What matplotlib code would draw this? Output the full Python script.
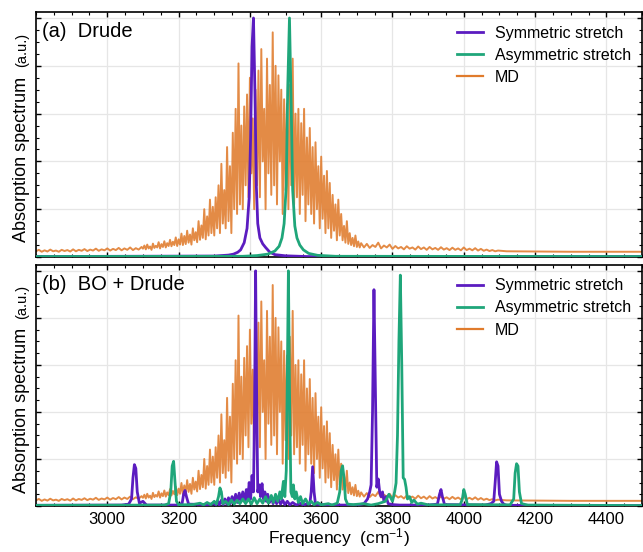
"""Absorption spectra: Drude vs BO + Drude, normal modes against MD."""

import matplotlib

matplotlib.use("Agg")
import matplotlib.pyplot as plt
import numpy as np
from matplotlib.ticker import FixedLocator, MultipleLocator

plt.rcParams["font.family"] = ["Liberation Sans", "DejaVu Sans"]
plt.rcParams["mathtext.default"] = "regular"

# Colours
SYM_COLOR = "#5b1cc0"
ASYM_COLOR = "#1fa67a"
MD_COLOR = "#e07b2c"

x_ticks = [3000, 3200, 3400, 3600, 3800, 4000, 4200, 4400]

# MD spectrum (same in both panels)
md_head = [
    0.024, 0.030, 0.022, 0.028, 0.023, 0.031, 0.024, 0.027, 0.022, 0.030,
    0.025, 0.029, 0.023, 0.032, 0.024, 0.030, 0.026, 0.033, 0.025, 0.031,
    0.027, 0.035, 0.026, 0.032, 0.028, 0.036, 0.027, 0.034, 0.029, 0.038,
    0.028, 0.036, 0.030, 0.040, 0.029, 0.037, 0.031, 0.042,
]
md_band = [
    0.035, 0.048, 0.032, 0.052, 0.036, 0.044, 0.030, 0.056, 0.038, 0.047,
    0.040, 0.062, 0.036, 0.054, 0.042, 0.066, 0.040, 0.058, 0.046, 0.072,
    0.045, 0.064, 0.050, 0.082, 0.046, 0.074, 0.052, 0.098, 0.050, 0.088,
    0.054, 0.110, 0.060, 0.094, 0.052, 0.120, 0.070, 0.104, 0.062, 0.150,
    0.072, 0.132, 0.080, 0.200, 0.074, 0.170, 0.090, 0.240, 0.100, 0.210,
    0.090, 0.250, 0.120, 0.300, 0.100, 0.390, 0.140, 0.280, 0.120, 0.460,
    0.150, 0.380, 0.100, 0.520, 0.200, 0.620, 0.180, 0.810, 0.220, 0.550,
    0.200, 0.630, 0.300, 0.680, 0.250, 0.750, 0.350, 0.580, 0.200, 0.700,
    0.300, 0.780, 0.250, 0.870, 0.400, 0.620, 0.200, 0.830, 0.350, 0.720,
    0.260, 0.940, 0.300, 0.800, 0.220, 0.760, 0.400, 0.700, 0.180, 0.660,
    0.280, 0.640, 0.200, 0.720, 0.300, 0.830, 0.220, 0.600, 0.250, 0.620,
    0.180, 0.560, 0.260, 0.620, 0.150, 0.500, 0.220, 0.540, 0.180, 0.460,
    0.140, 0.480, 0.200, 0.380, 0.120, 0.420, 0.160, 0.340, 0.100, 0.360,
    0.120, 0.310, 0.080, 0.260, 0.110, 0.220, 0.070, 0.240, 0.090, 0.180,
    0.070, 0.130, 0.060, 0.150, 0.055, 0.100, 0.050, 0.080, 0.045, 0.090,
    0.042, 0.065, 0.040, 0.058,
]
md_tail = [
    0.040, 0.055, 0.038, 0.050, 0.042, 0.060, 0.036, 0.048, 0.040, 0.052,
    0.034, 0.046, 0.036, 0.042, 0.032, 0.045, 0.035, 0.040, 0.031, 0.044,
    0.033, 0.040, 0.030, 0.042, 0.032, 0.038, 0.030, 0.041, 0.031, 0.037,
    0.029, 0.039, 0.030, 0.036, 0.028, 0.040, 0.029, 0.035, 0.028, 0.037,
    0.027, 0.034, 0.026, 0.031, 0.025, 0.029, 0.024, 0.027,
]
md_far_freq = [4120, 4200, 4300, 4400, 4500]
md_far = [0.024, 0.023, 0.022, 0.022, 0.022]

md_freq = np.concatenate([
    np.arange(2800, 3100, 8),
    np.arange(3100, 3716, 4),
    np.arange(3720, 4100, 8),
    md_far_freq,
])
md_val = np.array(md_head + md_band + md_tail + md_far)

# (a) Drude: normal-mode spectra
drude_sym_freq = [2800, 3300, 3340, 3354, 3366, 3374, 3384, 3392, 3398, 3402, 3406,
                  3410, 3414, 3418, 3422, 3428, 3436, 3444, 3456, 3470, 3500, 3560, 4500]
drude_sym_val = [0.002, 0.004, 0.008, 0.012, 0.02, 0.03, 0.06, 0.12, 0.25, 0.5, 0.88,
                 1.0, 0.7, 0.3, 0.14, 0.08, 0.055, 0.04, 0.02, 0.01, 0.005, 0.002, 0.002]
drude_asym_freq = [2800, 3380, 3420, 3450, 3470, 3482, 3490, 3496, 3502, 3506, 3511,
                   3516, 3520, 3526, 3532, 3540, 3550, 3565, 3590, 3640, 4500]
drude_asym_val = [0.002, 0.003, 0.006, 0.012, 0.025, 0.045, 0.08, 0.14, 0.3, 0.7, 1.0,
                  0.62, 0.28, 0.13, 0.08, 0.05, 0.03, 0.015, 0.007, 0.003, 0.002]

# (b) BO + Drude: normal-mode spectra
bo_sym_freq = [
    2800, 3040, 3060, 3068, 3072, 3076, 3080, 3084, 3090, 3100, 3110,
    3200, 3210, 3214, 3218, 3222, 3228, 3280,
    3300, 3304, 3310, 3314, 3320, 3325, 3330, 3335, 3340, 3345, 3350, 3355,
    3360, 3365, 3370, 3375, 3380, 3385, 3390, 3394, 3398, 3402, 3406, 3410,
    3413, 3416, 3419, 3422, 3426, 3430, 3434, 3438, 3442, 3446, 3450, 3455,
    3460, 3465, 3470, 3475, 3480, 3486, 3492, 3498, 3505, 3512, 3520, 3530,
    3540, 3550, 3560, 3568, 3572, 3576, 3580, 3584, 3600, 3620, 3700,
    3720, 3730, 3736, 3740, 3744, 3748, 3752, 3756, 3760, 3764, 3768, 3772,
    3776, 3782, 3788, 3800, 3820, 3900, 3926, 3932, 3936, 3940, 3946,
    4060, 4076, 4084, 4088, 4092, 4096, 4100, 4106, 4112, 4120, 4500,
]
bo_sym_val = [
    0.003, 0.004, 0.008, 0.03, 0.12, 0.176, 0.16, 0.06, 0.012, 0.02, 0.004,
    0.004, 0.012, 0.05, 0.066, 0.04, 0.008, 0.006,
    0.01, 0.004, 0.02, 0.005, 0.025, 0.006, 0.03, 0.008, 0.035, 0.01, 0.04, 0.012,
    0.05, 0.015, 0.055, 0.02, 0.06, 0.02, 0.07, 0.025, 0.1, 0.03, 0.13, 0.06,
    0.4, 1.0, 0.45, 0.06, 0.09, 0.04, 0.095, 0.03, 0.06, 0.02, 0.05, 0.015,
    0.04, 0.01, 0.035, 0.01, 0.03, 0.008, 0.025, 0.006, 0.02, 0.005, 0.015, 0.004,
    0.012, 0.004, 0.01, 0.008, 0.06, 0.167, 0.06, 0.008, 0.006, 0.004, 0.004,
    0.01, 0.03, 0.06, 0.09, 0.4, 0.92, 0.5, 0.08, 0.115, 0.06, 0.04, 0.06,
    0.02, 0.04, 0.01, 0.006, 0.004, 0.004, 0.008, 0.05, 0.07, 0.04, 0.006,
    0.004, 0.01, 0.02, 0.1, 0.188, 0.17, 0.05, 0.02, 0.008, 0.003, 0.002,
]
bo_asym_freq = [
    2800, 3160, 3172, 3178, 3182, 3186, 3190, 3194, 3200,
    3240, 3260, 3270, 3280, 3290, 3300, 3306, 3312, 3316, 3320, 3324, 3332,
    3340, 3348, 3356, 3364, 3372, 3380, 3388, 3396, 3404, 3412, 3420, 3428,
    3436, 3444, 3452, 3460, 3466, 3472, 3478, 3484, 3488, 3494, 3498, 3502,
    3505, 3508, 3511, 3515, 3519, 3522, 3526, 3530, 3536, 3542, 3548, 3556,
    3564, 3572, 3580, 3590, 3600, 3620, 3630, 3645, 3652, 3656, 3660, 3664,
    3668, 3674, 3690, 3720, 3740, 3760, 3780, 3790, 3800, 3806, 3810, 3814,
    3818, 3822, 3826, 3830, 3834, 3838, 3842, 3848, 3854, 3860, 3870, 3880,
    3900, 3990, 3996, 4000, 4004, 4010, 4130, 4140, 4144, 4148, 4152, 4156,
    4162, 4180, 4500,
]
bo_asym_val = [
    0.003, 0.004, 0.01, 0.06, 0.17, 0.19, 0.1, 0.02, 0.005,
    0.006, 0.012, 0.005, 0.015, 0.006, 0.02, 0.008, 0.04, 0.077, 0.06, 0.01, 0.02,
    0.006, 0.025, 0.008, 0.025, 0.01, 0.03, 0.01, 0.03, 0.008, 0.035, 0.01, 0.03,
    0.012, 0.04, 0.012, 0.045, 0.015, 0.05, 0.02, 0.06, 0.03, 0.105, 0.04, 0.15,
    0.55, 1.0, 0.5, 0.06, 0.04, 0.09, 0.03, 0.06, 0.015, 0.04, 0.01, 0.03,
    0.008, 0.02, 0.006, 0.015, 0.005, 0.01, 0.004, 0.012, 0.06, 0.15, 0.171, 0.12,
    0.03, 0.008, 0.006, 0.01, 0.004, 0.01, 0.02, 0.05, 0.02, 0.06, 0.098, 0.3,
    0.7, 0.982, 0.6, 0.12, 0.113, 0.08, 0.03, 0.04, 0.015, 0.025, 0.008, 0.012,
    0.005, 0.005, 0.03, 0.07, 0.05, 0.006, 0.005, 0.03, 0.14, 0.18, 0.17, 0.06,
    0.01, 0.004, 0.002,
]


def draw_panel(ax, sym_f, sym_v, asym_f, asym_v, label):
    """Draw one panel: two normal-mode spectra on top of the MD spectrum."""
    ax.plot(sym_f, sym_v, color=SYM_COLOR, linewidth=2.0, zorder=3,
            label="Symmetric stretch")
    ax.plot(asym_f, asym_v, color=ASYM_COLOR, linewidth=2.0, zorder=3,
            label="Asymmetric stretch")
    ax.plot(md_freq, md_val, color=MD_COLOR, linewidth=1.4, alpha=0.88, zorder=2,
            label="MD")

    ax.set_xlim(2800, 4500)
    ax.set_ylim(0, 1.025)

    # Ticks: inward on all sides, no y labels
    ax.xaxis.set_major_locator(FixedLocator(x_ticks))
    ax.xaxis.set_minor_locator(MultipleLocator(50))
    ax.yaxis.set_major_locator(MultipleLocator(0.2))
    ax.yaxis.set_minor_locator(MultipleLocator(0.05))
    ax.tick_params(which="both", direction="in", top=True, right=True,
                   labelleft=False, labelsize=12)
    ax.tick_params(which="major", length=3.5, width=1.0, pad=4)
    ax.tick_params(which="minor", length=2.0, width=0.8)
    for spine in ax.spines.values():
        spine.set_linewidth(1.2)

    ax.grid(True, which="major", color="#e6e6e6", linewidth=0.9)
    ax.set_axisbelow(True)

    ax.text(0.01, 0.92, label, transform=ax.transAxes, fontsize=14.5,
            ha="left", va="center")
    leg = ax.legend(loc="upper left", bbox_to_anchor=(0.695, 0.945), frameon=False,
                    fontsize=11.5, handlelength=1.6, handletextpad=0.75,
                    labelspacing=0.45, borderpad=0, borderaxespad=0)
    leg.get_lines()[2].set_linewidth(1.6)
    leg.get_lines()[2].set_alpha(1.0)


fig = plt.figure(figsize=(6.43, 5.52), dpi=100)
ax_top = fig.add_axes([0.056, 0.5344, 0.9425, 0.4438])
ax_bot = fig.add_axes([0.056, 0.0833, 0.9425, 0.4366])

draw_panel(ax_top, drude_sym_freq, drude_sym_val, drude_asym_freq, drude_asym_val,
           "(a)  Drude")
draw_panel(ax_bot, bo_sym_freq, bo_sym_val, bo_asym_freq, bo_asym_val,
           "(b)  BO + Drude")
ax_top.tick_params(labelbottom=False)
ax_bot.set_xlabel(r"Frequency  (cm$^{-1}$)", fontsize=12.5, labelpad=0)

# Y labels: large text plus small "(a.u.)"
for y_main, y_au in [(0.5616, 0.8786), (0.1060, 0.4230)]:
    fig.text(0.0404, y_main, "Absorption spectrum", rotation=90,
             rotation_mode="anchor", ha="left", va="baseline", fontsize=13)
    fig.text(0.0404, y_au, "(a.u.)", rotation=90, rotation_mode="anchor",
             ha="left", va="baseline", fontsize=10.5)

fig.savefig("out.png", dpi=100)
